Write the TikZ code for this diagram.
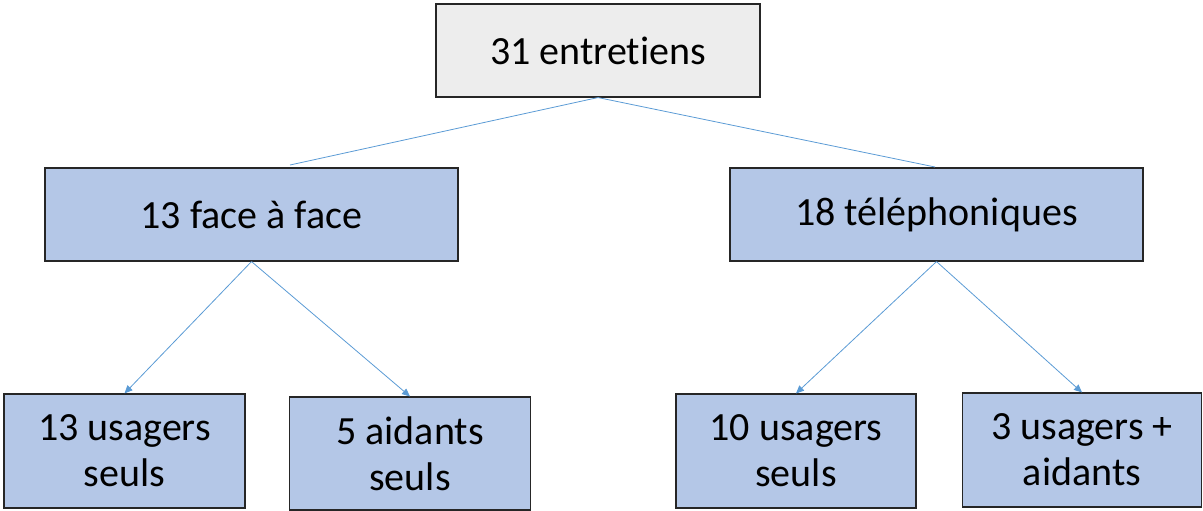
\documentclass[tikz,border=0pt]{standalone}
\usepackage{fontspec}
\setmainfont[Ligatures={NoCommon}]{Carlito}
\usetikzlibrary{arrows.meta}
\definecolor{boxblue}{HTML}{B4C7E7}
\definecolor{boxgray}{HTML}{EDEDED}
\definecolor{linkblue}{HTML}{5B9BD5}
\definecolor{edge}{HTML}{262626}
\tikzset{
  box/.style={draw=edge, line width=1.1pt, rectangle, inner sep=0pt, align=center,
    font=\fontsize{40}{46}\selectfont, text=black},
  bluebox/.style={box, fill=boxblue},
  link/.style={draw=linkblue, line width=0.8pt},
  arrowlink/.style={link, -{Triangle[length=8pt,width=7pt]}},
}
\begin{document}
\begin{tikzpicture}[x=1pt,y=-1pt]
\useasboundingbox (0,0) rectangle (1203,511);
\node[box, fill=boxgray, minimum width=324pt, minimum height=93pt] (top) at (598,50.5) {31 entretiens};
\node[bluebox, minimum width=413pt, minimum height=93pt] (lm) at (251.5,214.5) {13 face à face};
\node[bluebox, minimum width=413pt, minimum height=93pt] (rm) at (936.5,214.5) {18 téléphoniques};
\node[bluebox, minimum width=241pt, minimum height=114pt] (b1) at (124.5,451) {13 usagers\\seuls};
\node[bluebox, minimum width=241pt, minimum height=113pt] (b2) at (410,453.5) {5 aidants\\seuls};
\node[bluebox, minimum width=240pt, minimum height=114pt] (b3) at (796,451) {10 usagers\\seuls};
\node[bluebox, minimum width=239pt, minimum height=114pt] (b4) at (1082,450) {3 usagers +\\aidants};
\coordinate (lmt) at (290,165);
\coordinate (rmt) at (935,167);
\draw[link] (top.south) -- (lmt);
\draw[link] (top.south) -- (rmt);
\draw[arrowlink] (lm.south) -- (b1.north);
\draw[arrowlink] (lm.south) -- (b2.north);
\draw[arrowlink] (rm.south) -- (b3.north);
\draw[arrowlink] (rm.south) -- (b4.north);
\end{tikzpicture}
\end{document}
